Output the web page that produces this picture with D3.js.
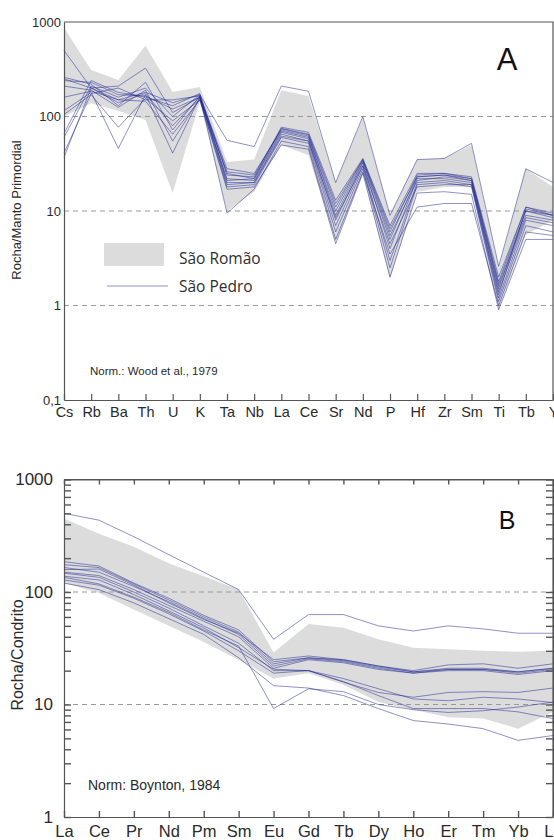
<!DOCTYPE html>
<html>
<head>
<meta charset="utf-8">
<script src="https://cdn.jsdelivr.net/npm/d3@7"></script>
<style>
  body { margin: 0; background: #fff; }
  svg { display: block; font-family: "Liberation Sans", Arial, sans-serif; }
</style>
</head>
<body>
<svg id="chart" width="554" height="840"></svg>
<script>
/* globals d3 */

// Panel A: spider diagram normalised to primordial mantle
const elementsA = ['Cs', 'Rb', 'Ba', 'Th', 'U', 'K', 'Ta', 'Nb', 'La', 'Ce',
  'Sr', 'Nd', 'P', 'Hf', 'Zr', 'Sm', 'Ti', 'Tb', 'Y'];
const romaoUpperA = [870, 310, 243, 560, 182, 205, 33, 35, 190, 165, 20, 97, 9, 35, 36, 50, 2.5, 28, 18];
const romaoLowerA = [100, 138, 115, 92, 15.5, 142, 10, 16, 50, 39, 4.7, 25, 1.9, 16, 18, 18, 0.9, 5.6, 8];
const pedroA = [
  [250, 200, 150, 180, 140, 170, 56, 48, 210, 185, 20, 100, 9, 35, 36, 52, 2.6, 28, 20],
  [500, 200, 210, 325, 110, 160, 25, 22, 75, 65, 12, 35, 6, 24, 25, 22, 1.8, 11, 9],
  [260, 220, 130, 230, 72, 165, 28, 25, 72, 62, 9, 33, 5, 23, 24, 21, 1.5, 10, 8.5],
  [210, 190, 125, 190, 55, 155, 22, 21, 68, 58, 8, 32, 4, 22, 22, 20, 1.3, 10.5, 9],
  [115, 180, 46, 170, 41, 160, 20, 20, 65, 55, 7, 30, 3, 20, 21, 19, 1.2, 8, 7],
  [105, 170, 77, 155, 90, 150, 18, 19, 60, 52, 6, 28, 2.5, 19, 20, 18, 1.1, 7, 6],
  [66, 240, 180, 160, 130, 175, 24, 23, 77, 68, 13, 36, 7, 25, 25, 23, 2.0, 11, 9.5],
  [60, 210, 160, 200, 100, 170, 21, 22, 70, 60, 10, 34, 5.5, 21, 23, 21, 1.6, 9, 8],
  [41, 175, 200, 150, 150, 165, 9.5, 17, 55, 48, 5, 26, 3.5, 11, 12, 12, 1.0, 6, 5.5],
  [37, 200, 140, 175, 80, 160, 19, 20, 62, 55, 8.5, 30, 4.5, 18, 19, 19, 1.4, 8.5, 7.5],
  [240, 230, 170, 165, 120, 160, 26, 24, 74, 64, 11, 35, 6.5, 23, 24, 22, 1.7, 10, 9],
  [160, 185, 150, 145, 65, 150, 17, 18, 50, 45, 4.5, 25, 2, 15.5, 16, 15, 0.9, 5, 5]
];
const yTicksA = [0.1, 1, 10, 100, 1000];
const yTickLabelsA = ['0,1', '1', '10', '100', '1000'];
const gridA = [1, 10, 100];

// Panel B: REE normalised to chondrite
const elementsB = ['La', 'Ce', 'Pr', 'Nd', 'Pm', 'Sm', 'Eu', 'Gd', 'Tb', 'Dy',
  'Ho', 'Er', 'Tm', 'Yb', 'Lu'];
const romaoUpperB = [450, 330, 253, 180, 138, 105, 29, 52, 48, 38, 32, 31, 30, 29.5, 30];
const romaoLowerB = [120, 98, 70, 50, 36, 25, 17, 19, 15, 10.5, 9, 7.7, 7.5, 6.1, 8.6];
const pedroB = [
  [500, 435, 310, 215, 150, 105, 38, 63, 63, 50, 45, 50, 47, 43, 43],
  [186, 170, 120, 88, 62, 46, 24, 26, 25, 22, 19.5, 21, 21, 19.5, 21],
  [175, 165, 118, 85, 60, 44, 23, 26, 24.5, 21.5, 19.5, 20.5, 20.5, 19, 20.5],
  [165, 150, 112, 82, 58, 42, 22, 25.5, 24, 21, 19, 20, 20, 18.5, 20],
  [158, 160, 115, 80, 57, 43, 25, 27, 25, 22, 20, 22.5, 23, 21, 23],
  [150, 140, 105, 76, 55, 40, 21, 25, 23.5, 20.5, 19, 20.5, 20.5, 19.5, 21],
  [147, 135, 100, 72, 50, 35, 20, 20, 17, 13.8, 11.2, 10.8, 11.6, 11.2, 10.4],
  [138, 128, 95, 68, 48, 32, 20.6, 20, 15.8, 12.8, 11.6, 12.8, 13, 12.8, 14],
  [128, 115, 88, 64, 45, 30, 19, 20, 16, 12, 9.2, 9.2, 9.2, 8.6, 7.5],
  [120, 105, 80, 58, 42, 26, 14.7, 14, 12, 9.2, 7.2, 6.7, 6.1, 4.8, 5.3],
  [135, 118, 90, 66, 46, 33, 9.2, 13.8, 13, 10, 9, 8.5, 8.8, 9.5, 10.5]
];
const yTicksB = [1, 10, 100, 1000];
const gridB = [10, 100];

const bandColor = '#dcdcdc';
const lineColor = '#1e2590';
const frameColor = '#555';
const textColor = '#2a2a2a';

const svg = d3.select('#chart');

// Draws band, dashed guides, sample lines and the closing frame for a panel
const drawData = (g, x, y, elements, upper, lower, lines, grid) => {
  const [x0, x1] = x.range();
  const [yBottom, yTop] = y.range();

  g.append('path')
    .datum(elements)
    .attr('d', d3.area()
      .x(e => x(e))
      .y0((e, i) => y(lower[i]))
      .y1((e, i) => y(upper[i])))
    .attr('fill', bandColor);

  g.selectAll('.grid').data(grid).join('line')
    .classed('grid', true)
    .attr('x1', x0).attr('x2', x1)
    .attr('y1', d => y(d)).attr('y2', d => y(d))
    .attr('stroke', '#9a9a9a')
    .attr('stroke-dasharray', '5,4');

  g.selectAll('.sample').data(lines).join('path')
    .classed('sample', true)
    .attr('d', d3.line()
      .x((v, i) => x(elements[i]))
      .y(v => y(v)))
    .attr('fill', 'none')
    .attr('stroke', lineColor)
    .attr('stroke-width', 1)
    .attr('stroke-opacity', 0.5);

  g.append('path')
    .attr('d', `M${x0},${yTop}H${x1}V${yBottom}`)
    .attr('fill', 'none')
    .attr('stroke', frameColor)
    .attr('stroke-width', 1.2);
};

// ---------- Panel A ----------
const xA = d3.scalePoint().domain(elementsA).range([64, 553]);
const yA = d3.scaleLog().domain([0.1, 1000]).range([400, 22]);
const gA = svg.append('g');
drawData(gA, xA, yA, elementsA, romaoUpperA, romaoLowerA, pedroA, gridA);

const axisLeftA = gA.append('g')
  .attr('transform', `translate(${xA.range()[0]},0)`)
  .call(d3.axisLeft(yA).tickValues(yTicksA)
    .tickFormat((d, i) => yTickLabelsA[i]).tickSize(0).tickPadding(3))
  .attr('color', frameColor)
  .attr('font-size', 13)
  .attr('font-family', null);
axisLeftA.select('.domain').attr('stroke-width', 1.2);
axisLeftA.selectAll('text').attr('fill', textColor);

const axisBottomA = gA.append('g')
  .attr('transform', `translate(0,${yA.range()[0]})`)
  .call(d3.axisBottom(xA).tickSizeInner(-6).tickSizeOuter(0).tickPadding(7))
  .attr('color', frameColor)
  .attr('font-size', 14.5)
  .attr('font-family', null);
axisBottomA.select('.domain').attr('stroke-width', 1.2);
axisBottomA.selectAll('.tick line').attr('stroke-width', 1.2);
axisBottomA.selectAll('text').attr('fill', textColor);

gA.append('text')
  .attr('transform', 'translate(21,210) rotate(-90)')
  .attr('text-anchor', 'middle')
  .attr('font-size', 13)
  .attr('fill', textColor)
  .text('Rocha/Manto Primordial');

gA.append('text')
  .attr('x', 507).attr('y', 70)
  .attr('text-anchor', 'middle')
  .attr('font-size', 31)
  .attr('fill', '#111')
  .text('A');

// Legend
const legend = gA.append('g').attr('font-family', '"Open Sans", "Noto Sans", sans-serif');
legend.append('rect')
  .attr('x', 104).attr('y', 243).attr('width', 60).attr('height', 23)
  .attr('fill', bandColor);
legend.append('line')
  .attr('x1', 107).attr('x2', 168).attr('y1', 286).attr('y2', 286)
  .attr('stroke', lineColor).attr('stroke-opacity', 0.5);
legend.selectAll('text').data(['São Romão', 'São Pedro']).join('text')
  .attr('x', 179)
  .attr('y', (d, i) => 264 + i * 28)
  .attr('font-size', 15.5)
  .attr('fill', '#2e2e2e')
  .text(d => d);

gA.append('text')
  .attr('x', 90).attr('y', 375)
  .attr('font-size', 11.5)
  .attr('fill', textColor)
  .text('Norm.: Wood et al., 1979');

// ---------- Panel B ----------
const xB = d3.scalePoint().domain(elementsB).range([64, 553]);
const yB = d3.scaleLog().domain([1, 1000]).range([817, 479.5]);
const gB = svg.append('g');
drawData(gB, xB, yB, elementsB, romaoUpperB, romaoLowerB, pedroB, gridB);

const axisLeftB = gB.append('g')
  .attr('transform', `translate(${xB.range()[0]},0)`)
  .call(d3.axisLeft(yB).tickValues(yB.ticks())
    .tickFormat(d => yTicksB.includes(d) ? d : '')
    .tickSizeInner(-7).tickSizeOuter(0).tickPadding(11))
  .attr('color', frameColor)
  .attr('font-size', 17)
  .attr('font-family', null);
axisLeftB.select('.domain').attr('stroke-width', 1.2);
axisLeftB.selectAll('.tick line').attr('stroke-width', 1.4);
axisLeftB.selectAll('text').attr('fill', textColor);

const axisRightB = gB.append('g')
  .attr('transform', `translate(${xB.range()[1]},0)`)
  .call(d3.axisRight(yB).tickValues(yB.ticks())
    .tickFormat('').tickSizeInner(-7).tickSizeOuter(0))
  .attr('color', frameColor);
axisRightB.selectAll('.tick line').attr('stroke-width', 1.4);

const axisTopB = gB.append('g')
  .attr('transform', `translate(0,${yB.range()[1]})`)
  .call(d3.axisTop(xB).tickFormat('').tickSizeInner(-5).tickSizeOuter(0))
  .attr('color', frameColor);
axisTopB.selectAll('.tick line').attr('stroke-width', 1.4);

const axisBottomB = gB.append('g')
  .attr('transform', `translate(0,${yB.range()[0]})`)
  .call(d3.axisBottom(xB).tickSizeInner(-6).tickSizeOuter(0).tickPadding(8))
  .attr('color', frameColor)
  .attr('font-size', 16.5)
  .attr('font-family', null);
axisBottomB.select('.domain').attr('stroke-width', 1.2);
axisBottomB.selectAll('.tick line').attr('stroke-width', 1.4);
axisBottomB.selectAll('text').attr('fill', textColor);

gB.append('text')
  .attr('transform', 'translate(17,655) rotate(-90)')
  .attr('dy', '0.35em')
  .attr('text-anchor', 'middle')
  .attr('font-size', 16)
  .attr('fill', textColor)
  .text('Rocha/Condrito');

gB.append('text')
  .attr('x', 507).attr('y', 529)
  .attr('text-anchor', 'middle')
  .attr('font-size', 25)
  .attr('fill', '#111')
  .text('B');

gB.append('text')
  .attr('x', 88).attr('y', 790)
  .attr('font-size', 14)
  .attr('fill', textColor)
  .text('Norm: Boynton, 1984');
</script>
</body>
</html>
